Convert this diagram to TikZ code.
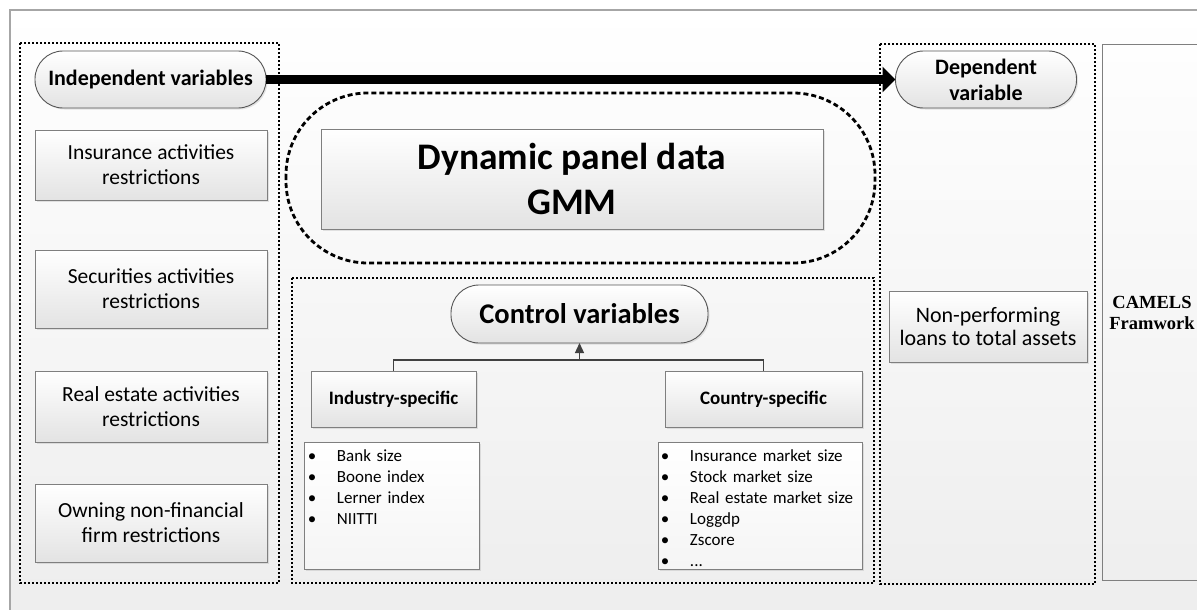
\documentclass[tikz,border=0pt]{standalone}
\usepackage{fontspec}
\setmainfont{Carlito}
\newfontfamily\timesfont{Liberation Serif}
\usetikzlibrary{arrows.meta,shadows}
\definecolor{bordergray}{HTML}{7F7F7F}
\definecolor{pillgray}{HTML}{555555}
\definecolor{framegray}{HTML}{A6A6A6}
\begin{document}
\begin{tikzpicture}[x=1pt,y=-1pt,
  every node/.style={inner sep=0pt, outer sep=0pt},
  boxstyle/.style={draw=bordergray, line width=0.9pt, top color=white, bottom color=gray!22,
     drop shadow={shadow xshift=1.5pt, shadow yshift=-1.5pt, opacity=0.2},
     align=center, font=\fontsize{21.5}{25}\selectfont},
  pillstyle/.style={boxstyle, draw=pillgray, rounded corners=28pt},
  liststyle/.style={draw=bordergray, line width=0.9pt, top color=white, bottom color=gray!8,
     drop shadow={shadow xshift=1.5pt, shadow yshift=-1.5pt, opacity=0.2}},
  listtext/.style={anchor=base west, align=left, text width=170pt, font=\fontsize{17}{21}\selectfont},
  dotbox/.style={draw=black, line width=1.9pt, dash pattern=on 2pt off 2pt},
  conn/.style={draw=black!75, line width=1.3pt}
]
\useasboundingbox (0,0) rectangle (1197,610);
\fill[white] (0,0) rectangle (1197,610);
\shade[top color=white, bottom color=black!7] (10,10) rectangle (1215,625);
\draw[framegray, line width=1.5pt] (10,625) -- (10,10) -- (1215,10);

% dotted group boxes
\draw[dotbox] (20,43) rectangle (279,583);
\draw[dotbox] (292,278) rectangle (874,583);
\draw[dotbox] (880,44) rectangle (1095,584);

% CAMELS box
\draw[bordergray, line width=0.9pt] (1102,44) rectangle (1215,580);
\node[font=\timesfont\bfseries\fontsize{18.5}{21}\selectfont, align=center] (cam) at (1152,313) {CAMELS\\Framwork};

% left column
\node[pillstyle, minimum width=231pt, minimum height=57pt, font=\bfseries\fontsize{22}{25}\selectfont] (indep) at (150.5,79.5) {Independent variables};
\node[boxstyle, minimum width=232pt, minimum height=70pt] (ins) at (151,165) {Insurance activities\\restrictions};
\node[boxstyle, minimum width=232pt, minimum height=78pt] (sec) at (151,289) {Securities activities\\restrictions};
\node[boxstyle, minimum width=232pt, minimum height=71pt] (rea) at (151,406.5) {Real estate activities\\restrictions};
\node[boxstyle, minimum width=232pt, minimum height=78pt] (own) at (151,523) {Owning non-financial\\firm restrictions};

% right column
\node[pillstyle, minimum width=181pt, minimum height=57pt, font=\bfseries\fontsize{22}{26}\selectfont] (dep) at (986,79.5) {Dependent\\variable};
\node[boxstyle, minimum width=198pt, minimum height=71pt, font=\fontsize{22}{23}\selectfont] (npl) at (988,327) {Non-performing\\loans to total assets};

% main arrow
\draw[line width=9pt, -{Triangle[length=13pt,width=25pt]}] (indep.east) -- (dep.west);

% GMM
\draw[line width=2.8pt, dash pattern=on 5pt off 3pt, rounded corners=82pt] (286,93) rectangle (875,263);
\node[boxstyle, minimum width=502pt, minimum height=100pt, font=\bfseries\fontsize{37.5}{45}\selectfont] (gmm) at (572,179) {Dynamic panel data\\GMM};

% control variables
\node[pillstyle, minimum width=257pt, minimum height=58pt, font=\bfseries\fontsize{28.5}{30}\selectfont] (ctl) at (579.5,314) {Control variables};
\node[boxstyle, minimum width=165pt, minimum height=56pt, font=\bfseries\fontsize{19}{22}\selectfont] (ind) at (393.5,399) {Industry-specific};
\node[boxstyle, minimum width=197pt, minimum height=56pt, font=\bfseries\fontsize{19}{22}\selectfont] (cty) at (763.5,399) {Country-specific};
\coordinate (jn) at (579.5,360);
\draw[conn] (ind.north) |- (jn) -| (cty.north);
\draw[conn, -{Triangle[length=10pt,width=9pt]}] (jn) -- (ctl.south);

% lists
\node[liststyle, minimum width=175pt, minimum height=127pt] (indl) at (391.5,505.5) {};
\node[liststyle, minimum width=204pt, minimum height=127pt] (ctyl) at (760,505.5) {};
\node[listtext] (indt) at (302,461.5) {%
\makebox[20pt][c]{\textbullet}\hspace{15pt}Bank size\\
\makebox[20pt][c]{\textbullet}\hspace{15pt}Boone index\\
\makebox[20pt][c]{\textbullet}\hspace{15pt}Lerner index\\
\makebox[20pt][c]{\textbullet}\hspace{15pt}NIITTI};
\node[listtext, text width=200pt] (ctyt) at (655,461.5) {%
\makebox[20pt][c]{\textbullet}\hspace{15pt}Insurance market size\\
\makebox[20pt][c]{\textbullet}\hspace{15pt}Stock market size\\
\makebox[20pt][c]{\textbullet}\hspace{15pt}Real estate market size\\
\makebox[20pt][c]{\textbullet}\hspace{15pt}Loggdp\\
\makebox[20pt][c]{\textbullet}\hspace{15pt}Zscore\\
\makebox[20pt][c]{\textbullet}\hspace{15pt}...};
\end{tikzpicture}
\end{document}
